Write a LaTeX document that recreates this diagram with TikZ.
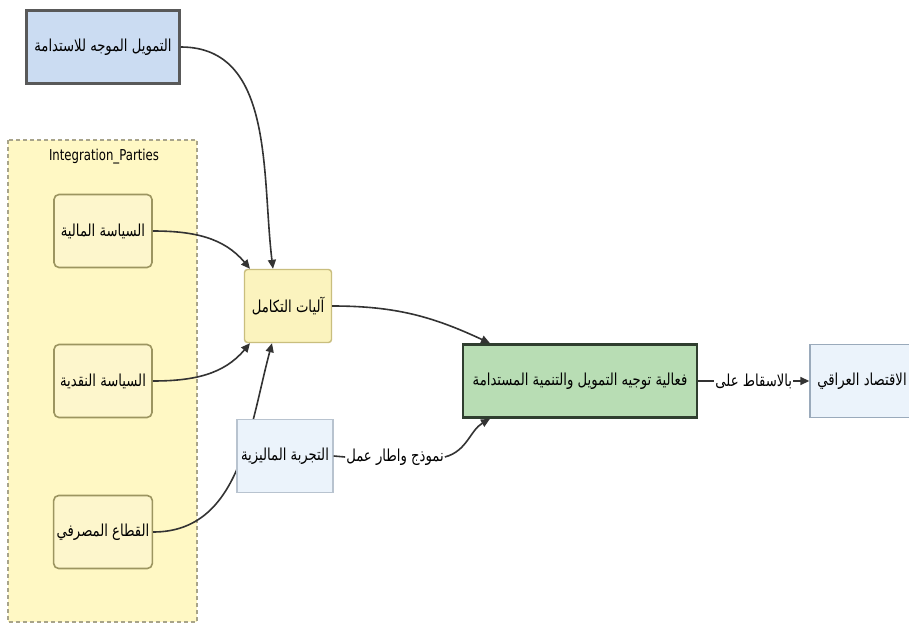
\documentclass[tikz,border=0pt]{standalone}
\usepackage{fontspec}
\setmainfont[FakeStretch=0.78]{DejaVu Sans}
\newfontfamily\arabicfont[Script=Arabic,FakeStretch=0.8]{DejaVu Sans}
\TeXXeTstate=1
\usetikzlibrary{arrows.meta}

\definecolor{fundfill}{HTML}{CBDCF2}
\definecolor{clusterfill}{HTML}{FFF8C4}
\definecolor{clusterline}{HTML}{A8A48A}
\definecolor{partyfill}{HTML}{FDF6CC}
\definecolor{partyline}{HTML}{9C9560}
\definecolor{mechfill}{HTML}{FBF3BE}
\definecolor{mechline}{HTML}{C9BE7E}
\definecolor{palefill}{HTML}{EBF3FB}
\definecolor{paleline}{HTML}{9AAABB}
\definecolor{efffill}{HTML}{B8DDB4}
\definecolor{effline}{HTML}{2F3E2F}
\definecolor{linkgray}{HTML}{333333}

\newcommand{\artext}[1]{{\arabicfont\beginR #1\endR}}

\tikzset{
  box/.style={draw, minimum height=73pt, inner sep=3pt, font=\fontsize{16.5}{19}\selectfont},
  party/.style={box, rounded corners=5pt, fill=partyfill, draw=partyline, line width=1.6pt, minimum width=98pt},
  link/.style={-{Triangle[length=9pt,width=8pt]}, line width=1.6pt, draw=linkgray},
  plain/.style={line width=1.6pt, draw=linkgray},
  lbl/.style={fill=white, inner sep=1pt, font=\fontsize{16.5}{19}\selectfont}
}

\begin{document}
\begin{tikzpicture}[x=1pt,y=-1pt]
\clip (0,0) rectangle (909,628);
\fill[white] (0,0) rectangle (909,628);

% subgraph
\draw[fill=clusterfill, draw=clusterline, dash pattern=on 4pt off 3pt, line width=1.5pt] (8,140) rectangle (197,622);
\node (title) at (104,157) {\fontsize{15}{17}\selectfont Integration\_Parties};

\node[box, fill=fundfill, draw=black!65, line width=2.5pt, minimum width=153pt] (fund) at (103,47) {\artext{التمويل الموجه للاستدامة}};
\node[party] (fiscal) at (103,231) {\artext{السياسة المالية}};
\node[party] (monetary) at (103,381) {\artext{السياسة النقدية}};
\node[party] (banks) at (103,532) {\artext{القطاع المصرفي}};

\node[box, fill=mechfill, draw=mechline, line width=1.4pt, rounded corners=3pt, minimum width=87pt] (mech) at (288,306) {\artext{آليات التكامل}};

% this one runs under the Malaysian box
\draw[link] (banks.east) to[out=0,in=-105] ([xshift=-16pt]mech.south);

\node[box, fill=palefill, draw=paleline!70, line width=1.4pt, minimum width=96pt] (malay) at (285,456) {\artext{التجربة الماليزية}};
\node[box, fill=efffill, draw=effline, line width=2.5pt, minimum width=234pt] (eff) at (580,381) {\artext{فعالية توجيه التمويل والتنمية المستدامة}};
\node[box, fill=palefill, draw=paleline, line width=1.4pt, minimum width=104pt] (iraq) at (862,381) {\artext{الاقتصاد العراقي}};

\draw[link] (fund.east) to[out=0,in=97] ([xshift=-15pt]mech.north);
\draw[link] (fiscal.east) to[out=0,in=130] ([xshift=-38pt]mech.north);
\draw[link] (monetary.east) to[out=0,in=-130] ([xshift=-38pt]mech.south);
\draw[link] (mech.east) to[out=0,in=155] ([xshift=-90pt]eff.north);

\node[lbl] (model) at (395,457) {\artext{نموذج واطار عمل}};
\draw[plain] (malay.east) -- (model.west);
\draw[link] (model.east) to[out=15,in=-150] ([xshift=-90pt]eff.south);

\draw[link] (eff.east) -- node[lbl] (proj) {\artext{بالاسقاط على}} (iraq.west);
\end{tikzpicture}
\end{document}
